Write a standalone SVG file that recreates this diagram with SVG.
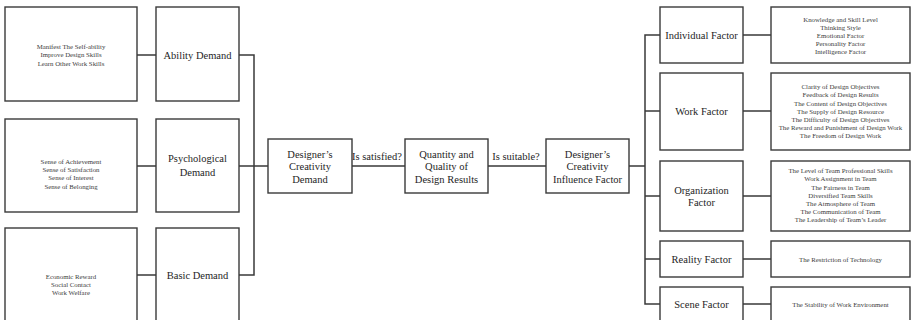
<svg xmlns="http://www.w3.org/2000/svg" width="912" height="320" viewBox="0 0 912 320">
  <style>
    .box { fill: #ffffff; stroke: #3a3a3a; stroke-width: 1.4; }
    .wire { fill: none; stroke: #3a3a3a; stroke-width: 1.5; }
    text { font-family: "Liberation Serif", "DejaVu Serif", serif; text-anchor: middle; dominant-baseline: central; }
    .lbl { font-size: 10.5px; fill: #1e1e1e; }
    .det { font-size: 6.8px; fill: #3c3c3c; }
    .edge { font-size: 10.5px; fill: #1e1e1e; }
  </style>
  <rect width="912" height="320" fill="#ffffff"/>

  <!-- connectors -->
  <g id="connectors">
    <path class="wire" d="M137 55H156 M137 166H156 M137 275H156"/>
    <path class="wire" d="M239 55H254V275H239 M239 166H268"/>
    <path class="wire" d="M352 166H405 M488 166H546"/>
    <path class="wire" d="M629 166H645 M660 35H645V304H660 M645 111H660 M645 196H660 M645 259H660"/>
    <path class="wire" d="M743 35H771 M743 111H771 M743 196H771 M743 259H771 M743 304H771"/>
    <text class="edge" x="377" y="156">Is satisfied?</text>
    <text class="edge" x="516" y="156">Is suitable?</text>
  </g>

  <!-- demand details -->
  <g id="ability-items">
    <rect class="box" x="5" y="7" width="132" height="94"/>
    <text class="det" x="71" y="46">Manifest The Self-ability</text>
    <text class="det" x="71" y="54.5">Improve Design Skills</text>
    <text class="det" x="71" y="63">Learn Other Work Skills</text>
  </g>
  <g id="psychological-items">
    <rect class="box" x="5" y="119" width="132" height="93"/>
    <text class="det" x="71" y="161.5">Sense of Achievement</text>
    <text class="det" x="71" y="169.7">Sense of Satisfaction</text>
    <text class="det" x="71" y="177.9">Sense of Interest</text>
    <text class="det" x="71" y="186.1">Sense of Belonging</text>
  </g>
  <g id="basic-items">
    <rect class="box" x="5" y="228" width="132" height="96"/>
    <text class="det" x="71" y="276">Economic Reward</text>
    <text class="det" x="71" y="284.2">Social Contact</text>
    <text class="det" x="71" y="292.4">Work Welfare</text>
  </g>

  <!-- demand nodes -->
  <g id="ability-demand">
    <rect class="box" x="156" y="7" width="83" height="94"/>
    <text class="lbl" x="197.5" y="55">Ability Demand</text>
  </g>
  <g id="psychological-demand">
    <rect class="box" x="156" y="119" width="83" height="93"/>
    <text class="lbl" x="197.5" y="158.5">Psychological</text>
    <text class="lbl" x="197.5" y="172.5">Demand</text>
  </g>
  <g id="basic-demand">
    <rect class="box" x="156" y="228" width="83" height="96"/>
    <text class="lbl" x="197.5" y="275">Basic Demand</text>
  </g>

  <!-- central chain -->
  <g id="creativity-demand">
    <rect class="box" x="268" y="139" width="84" height="54"/>
    <text class="lbl" x="310" y="154.3">Designer’s</text>
    <text class="lbl" x="310" y="166.7">Creativity</text>
    <text class="lbl" x="310" y="179.1">Demand</text>
  </g>
  <g id="design-results">
    <rect class="box" x="405" y="139" width="83" height="54"/>
    <text class="lbl" x="446.5" y="154.3">Quantity and</text>
    <text class="lbl" x="446.5" y="166.7">Quality of</text>
    <text class="lbl" x="446.5" y="179.1">Design Results</text>
  </g>
  <g id="influence-factor">
    <rect class="box" x="546" y="139" width="83" height="54"/>
    <text class="lbl" x="587.5" y="154.3">Designer’s</text>
    <text class="lbl" x="587.5" y="166.7">Creativity</text>
    <text class="lbl" x="587.5" y="179.1">Influence Factor</text>
  </g>

  <!-- factor nodes -->
  <g id="individual-factor">
    <rect class="box" x="660" y="7" width="83" height="56"/>
    <text class="lbl" x="701.5" y="35">Individual Factor</text>
  </g>
  <g id="work-factor">
    <rect class="box" x="660" y="73" width="83" height="77"/>
    <text class="lbl" x="701.5" y="111">Work Factor</text>
  </g>
  <g id="organization-factor">
    <rect class="box" x="660" y="161" width="83" height="70"/>
    <text class="lbl" x="701.5" y="190">Organization</text>
    <text class="lbl" x="701.5" y="202.3">Factor</text>
  </g>
  <g id="reality-factor">
    <rect class="box" x="660" y="241" width="83" height="36"/>
    <text class="lbl" x="701.5" y="259">Reality Factor</text>
  </g>
  <g id="scene-factor">
    <rect class="box" x="660" y="287" width="83" height="37"/>
    <text class="lbl" x="701.5" y="304">Scene Factor</text>
  </g>

  <!-- factor details -->
  <g id="individual-items">
    <rect class="box" x="771" y="7" width="139" height="56"/>
    <text class="det" x="840.5" y="19">Knowledge and Skill Level</text>
    <text class="det" x="840.5" y="27.2">Thinking Style</text>
    <text class="det" x="840.5" y="35.4">Emotional Factor</text>
    <text class="det" x="840.5" y="43.6">Personality Factor</text>
    <text class="det" x="840.5" y="51.8">Intelligence Factor</text>
  </g>
  <g id="work-items">
    <rect class="box" x="771" y="73" width="139" height="77"/>
    <text class="det" x="840.5" y="86.7">Clarity of Design Objectives</text>
    <text class="det" x="840.5" y="94.9">Feedback of Design Results</text>
    <text class="det" x="840.5" y="103.1">The Content of Design Objectives</text>
    <text class="det" x="840.5" y="111.3">The Supply of Design Resource</text>
    <text class="det" x="840.5" y="119.5">The Difficulty of Design Objectives</text>
    <text class="det" x="840.5" y="127.7">The Reward and Punishment of Design Work</text>
    <text class="det" x="840.5" y="135.9">The Freedom of Design Work</text>
  </g>
  <g id="organization-items">
    <rect class="box" x="771" y="161" width="139" height="70"/>
    <text class="det" x="840.5" y="170.7">The Level of Team Professional Skills</text>
    <text class="det" x="840.5" y="178.9">Work Assignment in Team</text>
    <text class="det" x="840.5" y="187.1">The Fairness in Team</text>
    <text class="det" x="840.5" y="195.3">Diversified Team Skills</text>
    <text class="det" x="840.5" y="203.5">The Atmosphere of Team</text>
    <text class="det" x="840.5" y="211.7">The Communication of Team</text>
    <text class="det" x="840.5" y="219.9">The Leadership of Team’s Leader</text>
  </g>
  <g id="reality-items">
    <rect class="box" x="771" y="241" width="139" height="36"/>
    <text class="det" x="840.5" y="259">The Restriction of Technology</text>
  </g>
  <g id="scene-items">
    <rect class="box" x="771" y="287" width="139" height="37"/>
    <text class="det" x="840.5" y="304">The Stability of Work Environment</text>
  </g>
</svg>
